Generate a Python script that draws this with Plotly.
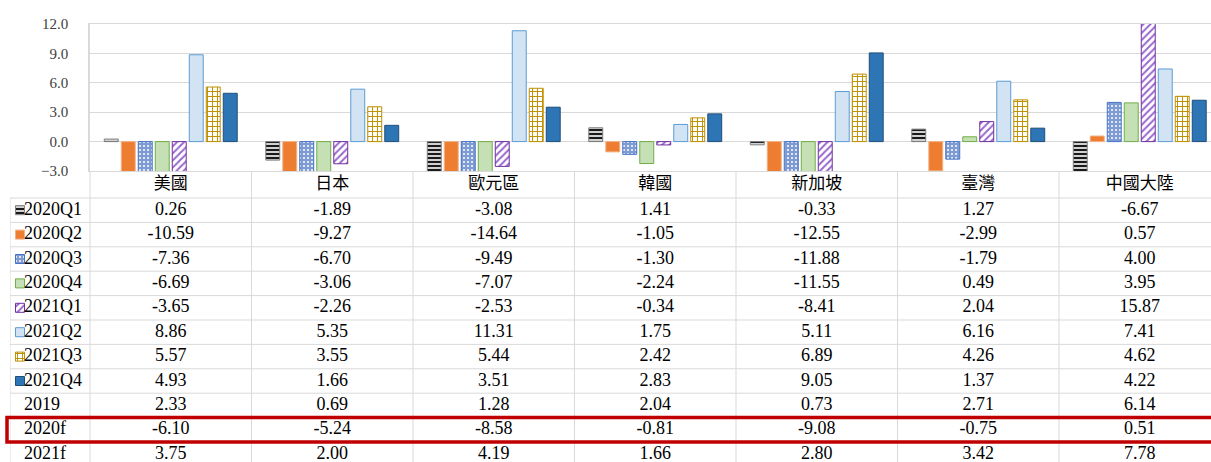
import plotly.graph_objects as go

countries = ["美國", "日本", "歐元區", "韓國", "新加坡", "臺灣", "中國大陸"]

q2020_1 = [0.26, -1.89, -3.08, 1.41, -0.33, 1.27, -6.67]
q2020_2 = [-10.59, -9.27, -14.64, -1.05, -12.55, -2.99, 0.57]
q2020_3 = [-7.36, -6.70, -9.49, -1.30, -11.88, -1.79, 4.00]
q2020_4 = [-6.69, -3.06, -7.07, -2.24, -11.55, 0.49, 3.95]
q2021_1 = [-3.65, -2.26, -2.53, -0.34, -8.41, 2.04, 15.87]
q2021_2 = [8.86, 5.35, 11.31, 1.75, 5.11, 6.16, 7.41]
q2021_3 = [5.57, 3.55, 5.44, 2.42, 6.89, 4.26, 4.62]
q2021_4 = [4.93, 1.66, 3.51, 2.83, 9.05, 1.37, 4.22]
y2019 = [2.33, 0.69, 1.28, 2.04, 0.73, 2.71, 6.14]
y2020f = [-6.10, -5.24, -8.58, -0.81, -9.08, -0.75, 0.51]
y2021f = [3.75, 2.00, 4.19, 1.66, 2.80, 3.42, 7.78]

bar_names = ["2020Q1", "2020Q2", "2020Q3", "2020Q4", "2021Q1", "2021Q2", "2021Q3", "2021Q4"]
bar_values = [q2020_1, q2020_2, q2020_3, q2020_4, q2021_1, q2021_2, q2021_3, q2021_4]
extra_names = ["2019", "2020f", "2021f"]
extra_values = [y2019, y2020f, y2021f]

# marker styles per series (Excel-like fills)
styles = [
    dict(color="#FFFFFF", line=dict(color="#7F7F7F", width=1),
         pattern=dict(shape="-", fgcolor="#1A1A1A", bgcolor="#FFFFFF", size=4, solidity=0.6, fillmode="replace")),
    dict(color="#ED7D31", line=dict(color="#F4B183", width=1)),
    dict(color="#7F9BD3", line=dict(color="#4472C4", width=1),
         pattern=dict(shape=".", fgcolor="#FFFFFF", bgcolor="#7F9BD3", size=4, solidity=0.2, fillmode="replace")),
    dict(color="#C5E0B4", line=dict(color="#70AD47", width=1)),
    dict(color="#FFFFFF", line=dict(color="#7030A0", width=1),
         pattern=dict(shape="/", fgcolor="#9966CC", bgcolor="#FFFFFF", size=5, solidity=0.4, fillmode="replace")),
    dict(color="#D2E3F4", line=dict(color="#5B9BD5", width=1)),
    dict(color="#FFFFFF", line=dict(color="#BF9000", width=1),
         pattern=dict(shape="+", fgcolor="#BF9000", bgcolor="#FFFFFF", size=5, solidity=0.35, fillmode="replace")),
    dict(color="#2E75B6", line=dict(color="#1F4E79", width=1)),
]

W, H = 1211, 462
col_px = 161.5
plot_left, table_left = 90, 10
plot_top, plot_bottom = 24, 171
row_px = 24.4
header_rows = (198 - plot_bottom) / row_px

x_end = -0.5 + (W - plot_left) / col_px
x2_start = -0.5 - (plot_left - table_left) / col_px
y2_bottom = -header_rows + (H - plot_bottom) / row_px

serif = "Liberation Serif, Noto Sans CJK TC, serif"
idx = list(range(len(countries)))

fig = go.Figure()

for name, vals, st in zip(bar_names, bar_values, styles):
    fig.add_trace(go.Bar(x=idx, y=vals, name=name, marker=st, xaxis="x", yaxis="y"))

# legend swatches inside the table
sw_x = x2_start + (20 - table_left) / col_px
sw_w = 9 / col_px
sw_h = 9 / row_px
for i, (name, st) in enumerate(zip(bar_names, styles)):
    fig.add_trace(go.Bar(x=[sw_x], y=[sw_h], base=[i + 0.5 - sw_h / 2], width=[sw_w],
                         offset=-sw_w / 2, marker=st, xaxis="x2", yaxis="y2", hoverinfo="skip"))

# table texts
all_names = bar_names + extra_names
all_values = bar_values + extra_values
tx, ty, tt = [], [], []
for i, vals in enumerate(all_values):
    for j, v in enumerate(vals):
        tx.append(j)
        ty.append(i + 0.5)
        tt.append(f"{v:.2f}")
fig.add_trace(go.Scatter(x=tx, y=ty, text=tt, mode="text", xaxis="x2", yaxis="y2",
                         textfont=dict(family=serif, size=18, color="#000000"), cliponaxis=False))

lab_x = x2_start + (24 - table_left) / col_px
fig.add_trace(go.Scatter(x=[lab_x] * len(all_names), y=[i + 0.5 for i in range(len(all_names))],
                         text=all_names, mode="text", textposition="middle right",
                         xaxis="x2", yaxis="y2",
                         textfont=dict(family=serif, size=18, color="#000000"), cliponaxis=False))

fig.add_trace(go.Scatter(x=idx, y=[-header_rows / 2] * len(countries), text=countries, mode="text",
                         xaxis="x2", yaxis="y2",
                         textfont=dict(family=serif, size=17, color="#000000"), cliponaxis=False))

# table rules
grid = "#D9D9D9"
shapes = []
for k in range(len(countries) + 1):
    shapes.append(dict(type="line", xref="x2", yref="y2", x0=k - 0.5, x1=k - 0.5,
                       y0=-header_rows, y1=y2_bottom, line=dict(color=grid, width=1)))
shapes.append(dict(type="line", xref="x2", yref="y2", x0=x2_start, x1=x2_start,
                   y0=0, y1=y2_bottom, line=dict(color=grid, width=1)))
for r in range(len(all_names)):
    shapes.append(dict(type="line", xref="x2", yref="y2", x0=x2_start, x1=x_end,
                       y0=r, y1=r, line=dict(color=grid, width=1)))
# highlight 2020f row
r_hi = all_names.index("2020f")
shapes.append(dict(type="rect", xref="paper", yref="y2", x0=7 / W, x1=1.01,
                   y0=r_hi, y1=r_hi + 1, line=dict(color="#C00000", width=3.5)))

fig.update_layout(
    width=W, height=H,
    margin=dict(l=0, r=0, t=0, b=0, autoexpand=False),
    paper_bgcolor="white", plot_bgcolor="white",
    barmode="group", bargap=0.158, bargroupgap=0.18,
    showlegend=False,
    shapes=shapes,
    xaxis=dict(domain=[plot_left / W, 1], range=[-0.5, x_end], showticklabels=False,
               showgrid=False, zeroline=False, showline=True, mirror=True,
               linecolor=grid, linewidth=1, anchor="y", automargin=False),
    yaxis=dict(domain=[(H - plot_bottom) / H, (H - plot_top) / H], range=[-3, 12],
               tickvals=[-3, 0, 3, 6, 9, 12], tickformat=".1f",
               tickfont=dict(family=serif, size=15, color="#404040"),
               ticklabelstandoff=17, gridcolor=grid, zeroline=False, automargin=False,
               showline=True, mirror=True, linecolor=grid, linewidth=1.5, anchor="x"),
    xaxis2=dict(domain=[table_left / W, 1], range=[x2_start, x_end], visible=False,
                anchor="y2", automargin=False),
    yaxis2=dict(domain=[0, (H - plot_bottom) / H], range=[y2_bottom, -header_rows],
                visible=False, anchor="x2", automargin=False),
)

fig.write_html("out.html", config={"displayModeBar": False},
               post_script="document.body.style.margin='0';document.body.style.overflow='hidden';")
